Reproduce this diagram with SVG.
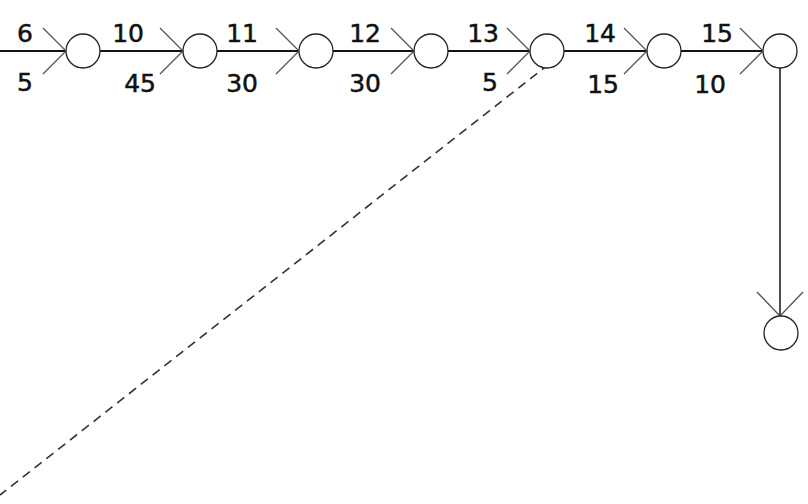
<svg xmlns="http://www.w3.org/2000/svg" width="808" height="504" viewBox="0 0 808 504">
<style>
.edge{stroke:#111;stroke-width:2;fill:none}
.head{stroke:#555;stroke-width:1.3;fill:none}
.dash{stroke:#333;stroke-width:1.6;fill:none;stroke-dasharray:9 6}
.node{fill:#fff;stroke:#222;stroke-width:1.3}
.lbl{font-family:"DejaVu Sans",sans-serif;font-size:25px;fill:#111;stroke:#111;stroke-width:0.5;text-anchor:end}
</style>
<rect width="808" height="504" fill="#fff"/>
<g id="connectors">
<line class="dash" x1="549" y1="64" x2="0" y2="495"/>
<line class="edge" x1="0" y1="51" x2="66" y2="51"/>
<line class="edge" x1="100" y1="51" x2="183" y2="51"/>
<line class="edge" x1="217" y1="51" x2="299" y2="51"/>
<line class="edge" x1="333" y1="51" x2="414" y2="51"/>
<line class="edge" x1="448" y1="51" x2="530" y2="51"/>
<line class="edge" x1="564" y1="51" x2="647" y2="51"/>
<line class="edge" x1="681" y1="51" x2="763" y2="51"/>
<line class="edge" x1="780" y1="68" x2="780" y2="316" style="stroke-width:1.5"/>
<path class="head" d="M43,28 L66,51 L43,74"/>
<path class="head" d="M160,28 L183,51 L160,74"/>
<path class="head" d="M276,28 L299,51 L276,74"/>
<path class="head" d="M391,28 L414,51 L391,74"/>
<path class="head" d="M507,28 L530,51 L507,74"/>
<path class="head" d="M624,28 L647,51 L624,74"/>
<path class="head" d="M740,28 L763,51 L740,74"/>
<path class="head" d="M757,292 L780,316 L803,292"/>
</g>
<g id="labels">
<text class="lbl" x="33" y="42">6</text>
<text class="lbl" x="33" y="91">5</text>
<text class="lbl" x="144" y="42">10</text>
<text class="lbl" x="156" y="92">45</text>
<text class="lbl" x="258" y="42">11</text>
<text class="lbl" x="258" y="92">30</text>
<text class="lbl" x="381" y="42">12</text>
<text class="lbl" x="381" y="92">30</text>
<text class="lbl" x="499" y="42">13</text>
<text class="lbl" x="498" y="91">5</text>
<text class="lbl" x="616" y="42">14</text>
<text class="lbl" x="619" y="93">15</text>
<text class="lbl" x="733" y="42">15</text>
<text class="lbl" x="726" y="93">10</text>
</g>
<g id="n1"><circle class="node" cx="83" cy="51" r="17"/></g>
<g id="n2"><circle class="node" cx="200" cy="51" r="17"/></g>
<g id="n3"><circle class="node" cx="316" cy="51" r="17"/></g>
<g id="n4"><circle class="node" cx="431" cy="51" r="17"/></g>
<g id="n5"><circle class="node" cx="547" cy="51" r="17"/></g>
<g id="n6"><circle class="node" cx="664" cy="51" r="17"/></g>
<g id="n7"><circle class="node" cx="780" cy="51" r="17"/></g>
<g id="n8"><circle class="node" cx="781" cy="333" r="17"/></g>
</svg>
